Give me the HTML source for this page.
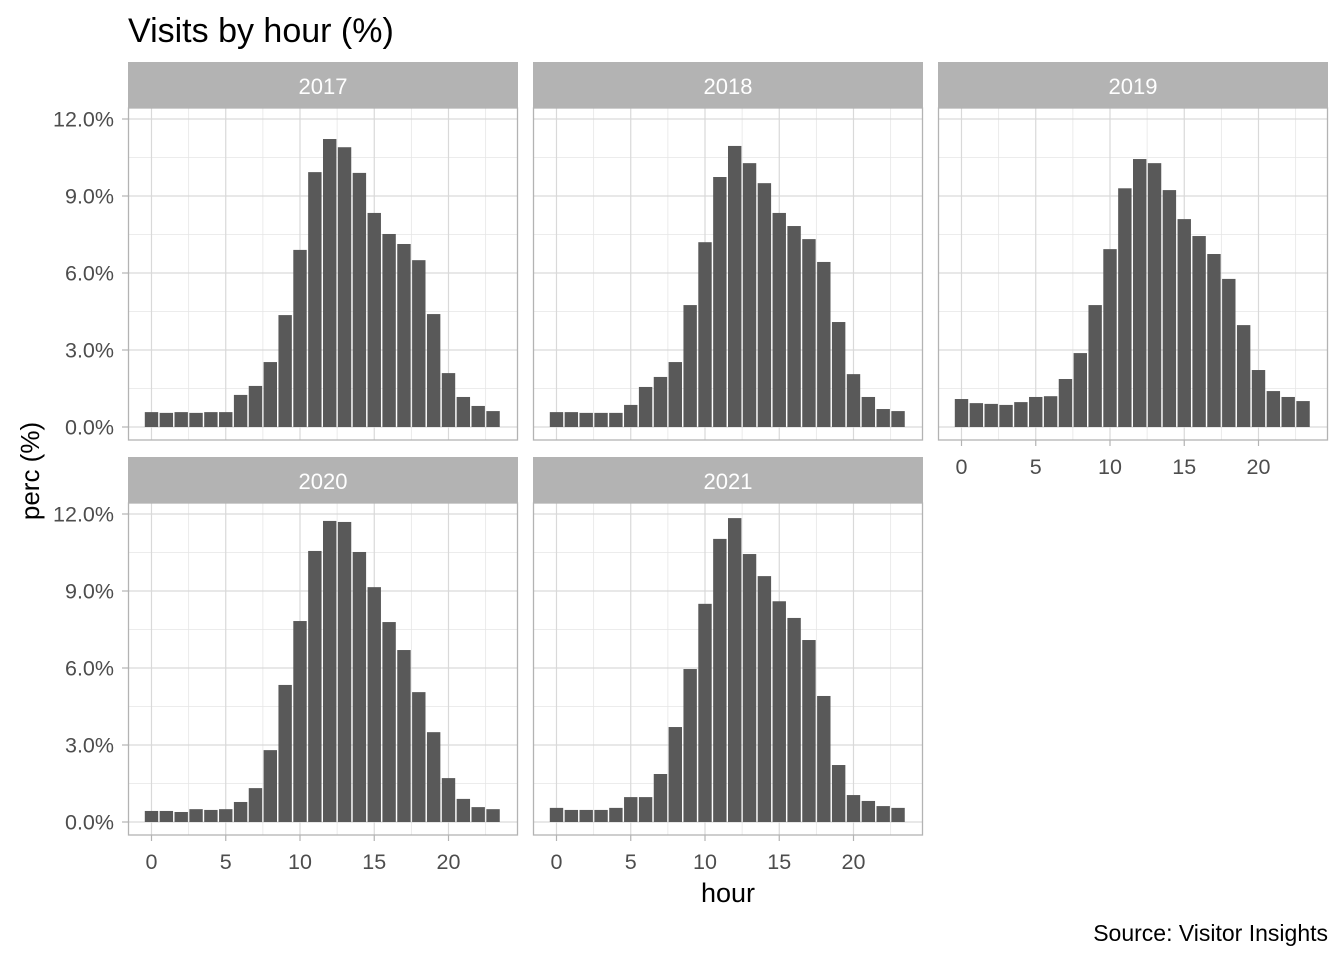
<!DOCTYPE html>
<html><head><meta charset="utf-8"><style>
body{margin:0;background:#fff;}
svg text{font-family:"Liberation Sans",sans-serif;}
</style></head><body>
<svg id="chart" width="1344" height="960" xmlns="http://www.w3.org/2000/svg">
<text x="128" y="42" font-size="34" fill="#000">Visits by hour (%)</text>
<text transform="translate(39,471) rotate(-90)" text-anchor="middle" font-size="26" fill="#000">perc (%)</text>
<text x="728" y="902" text-anchor="middle" font-size="27" fill="#000">hour</text>
<text x="1328" y="941" text-anchor="end" font-size="23" fill="#000">Source: Visitor Insights</text>
</svg>
<script>
const years = ["2017","2018","2019","2020","2021"];
const v2017 = [0.58,0.55,0.58,0.55,0.58,0.58,1.25,1.6,2.53,4.36,6.9,9.93,11.22,10.9,9.9,8.34,7.52,7.13,6.5,4.4,2.1,1.17,0.82,0.62];
const v2018 = [0.58,0.58,0.55,0.55,0.55,0.86,1.56,1.95,2.53,4.75,7.2,9.74,10.95,10.28,9.5,8.34,7.83,7.32,6.43,4.09,2.06,1.17,0.7,0.62];
const v2019 = [1.09,0.93,0.9,0.86,0.97,1.17,1.2,1.87,2.88,4.75,6.93,9.3,10.44,10.28,9.23,8.1,7.44,6.74,5.77,3.97,2.22,1.4,1.17,1.01];
const v2020 = [0.43,0.43,0.39,0.5,0.47,0.5,0.78,1.32,2.8,5.34,7.83,10.56,11.73,11.69,10.52,9.15,7.79,6.7,5.06,3.5,1.71,0.9,0.58,0.5];
const v2021 = [0.55,0.47,0.47,0.47,0.55,0.97,0.97,1.87,3.7,5.96,8.5,11.03,11.84,10.44,9.58,8.6,7.95,7.09,4.91,2.22,1.05,0.82,0.62,0.55];
const series = [v2017,v2018,v2019,v2020,v2021];
const yTicks = [0,3,6,9,12];
const yTickLabels = ["0.0%","3.0%","6.0%","9.0%","12.0%"];
const xTicks = [0,5,10,15,20];

const svg = document.getElementById('chart');
const NS = "http://www.w3.org/2000/svg";
function mk(tag, attrs, parent){const e=document.createElementNS(NS,tag);for(const k in attrs)e.setAttribute(k,attrs[k]);(parent||svg).appendChild(e);return e;}
const panels = [{x:128,y:62},{x:533,y:62},{x:938,y:62},{x:128,y:457},{x:533,y:457}];
const W=390, stripH=46, plotH=332;
panels.forEach((p,i)=>{
  const g = mk('g',{});
  
  
  const top=p.y+stripH, bot=top+plotH;
  const y0 = top+319;
  const ppu = 308/12;
  const yS = v=>y0 - v*ppu;
  const x0 = p.x+23.5, ppx=14.85;
  const xS = h=>x0 + h*ppx;
  for(let v=1.5; v<12.5; v+=3) mk('line',{x1:p.x,x2:p.x+W,y1:yS(v),y2:yS(v),stroke:'#e6e6e6','stroke-width':0.8},g);
  for(let h=2.5; h<25; h+=5) mk('line',{x1:xS(h),x2:xS(h),y1:top,y2:bot,stroke:'#e6e6e6','stroke-width':0.8},g);
  yTicks.forEach(v=>mk('line',{x1:p.x,x2:p.x+W,y1:yS(v),y2:yS(v),stroke:'#d9d9d9','stroke-width':1.2},g));
  xTicks.forEach(h=>mk('line',{x1:xS(h),x2:xS(h),y1:top,y2:bot,stroke:'#d9d9d9','stroke-width':1.2},g));
  series[i].forEach((v,h)=>{
    const b = mk('rect',{x:xS(h)-6.7,y:yS(v),width:13.4,height:v*ppu,fill:'#595959'},g);
    
    
  });
  mk('rect',{x:p.x+0.5,y:top,width:W-1,height:plotH,fill:'none',stroke:'#b3b3b3','stroke-width':1.3},g);
  const s = mk('rect',{x:p.x,y:p.y,width:W,height:stripH,fill:'#b3b3b3'},g);
  
  
  mk('text',{x:p.x+W/2,y:p.y+32,'text-anchor':'middle','font-size':22,fill:'#fff'},g).textContent=years[i];
  if(p.x===128){
    yTicks.forEach((v,k)=>{
      mk('line',{x1:p.x-6,x2:p.x,y1:yS(v),y2:yS(v),stroke:'#b3b3b3','stroke-width':1.2},g);
      mk('text',{x:p.x-14,y:yS(v)+7.5,'text-anchor':'end','font-size':21.5,fill:'#4d4d4d'},g).textContent=yTickLabels[k];
    });
  }
  if(i>=2){
    xTicks.forEach(h=>{
      mk('line',{x1:xS(h),x2:xS(h),y1:bot,y2:bot+6,stroke:'#b3b3b3','stroke-width':1.2},g);
      mk('text',{x:xS(h),y:bot+34,'text-anchor':'middle','font-size':21.5,fill:'#4d4d4d'},g).textContent=h;
    });
  }
});
</script>
</body></html>
